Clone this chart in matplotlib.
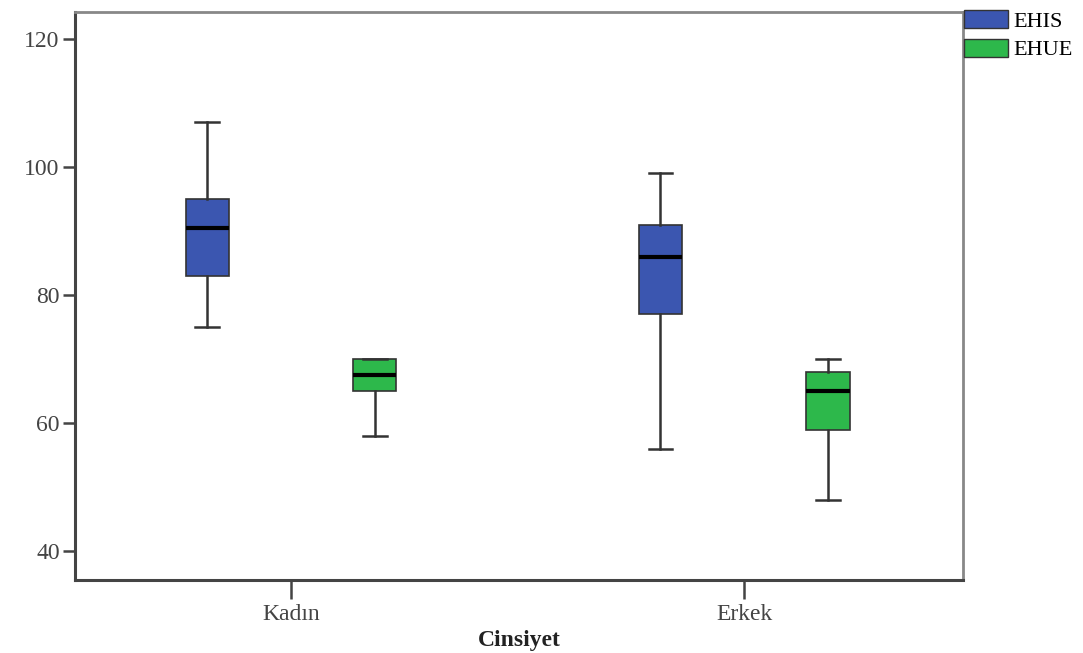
#!/usr/bin/env python3

import matplotlib
matplotlib.use('Agg')
import matplotlib.pyplot as plt
from matplotlib.patches import Patch

plt.rcParams['font.family'] = ['Liberation Serif', 'DejaVu Serif']

groups = ['Kadın', 'Erkek']
series = ['EHIS', 'EHUE']
colours = ['#3b56b0', '#2db84b']

# whislo, q1, med, q3, whishi per group
ehis = [[75, 83, 90.5, 95, 107],
        [56, 77, 86, 91, 99]]
ehue = [[58, 65, 67.5, 70, 70],
        [48, 59, 65, 68, 70]]

def make_stats(vals):
  out = []
  for v in vals:
    out.append({'whislo': v[0], 'q1': v[1], 'med': v[2], 'q3': v[3], 'whishi': v[4], 'fliers': []})
  return out

fig = plt.figure(figsize=(10.83, 6.53), dpi=100)
ax = fig.add_axes([75/1083, 73/653, 888/1083, 568/653])

offset = 0.185
width = 0.095
for i, data in enumerate([ehis, ehue]):
  pos = [g + (-offset if i == 0 else offset) for g in range(len(groups))]
  ax.bxp(make_stats(data), positions=pos, widths=width, patch_artist=True,
         showfliers=False,
         boxprops=dict(facecolor=colours[i], edgecolor='#333333', linewidth=1.2),
         medianprops=dict(color='black', linewidth=3),
         whiskerprops=dict(color='#333333', linewidth=1.8),
         capprops=dict(color='#333333', linewidth=1.8),
         capwidths=width * 0.55)

ax.set_xlim(-0.477, 1.483)
ax.set_ylim(35.5, 124.2)
ax.set_yticks([40, 60, 80, 100, 120])
ax.set_xticks(range(len(groups)))
ax.set_xticklabels(groups)
ax.tick_params(axis='y', labelsize=17, colors='#444444', length=9, width=1.8, pad=2)
ax.tick_params(axis='x', labelsize=17, colors='#444444', length=14, width=1.8, pad=3)
ax.set_xlabel('Cinsiyet', fontsize=17, fontweight='bold', color='#222222', labelpad=4)

for side in ['left', 'bottom']:
  ax.spines[side].set_linewidth(2.2)
  ax.spines[side].set_color('#444444')
for side in ['top', 'right']:
  ax.spines[side].set_linewidth(2)
  ax.spines[side].set_color('#888888')

handles = [Patch(facecolor=colours[k], edgecolor='#333333', label=series[k]) for k in range(2)]
fig.legend(handles=handles, loc='upper left', bbox_to_anchor=(964/1083, 1 - 10/653),
           frameon=False, fontsize=16, handlelength=2.0, handleheight=0.9,
           handletextpad=0.2, labelspacing=0.3, borderaxespad=0, borderpad=0)

fig.savefig('out.png', dpi=100)
